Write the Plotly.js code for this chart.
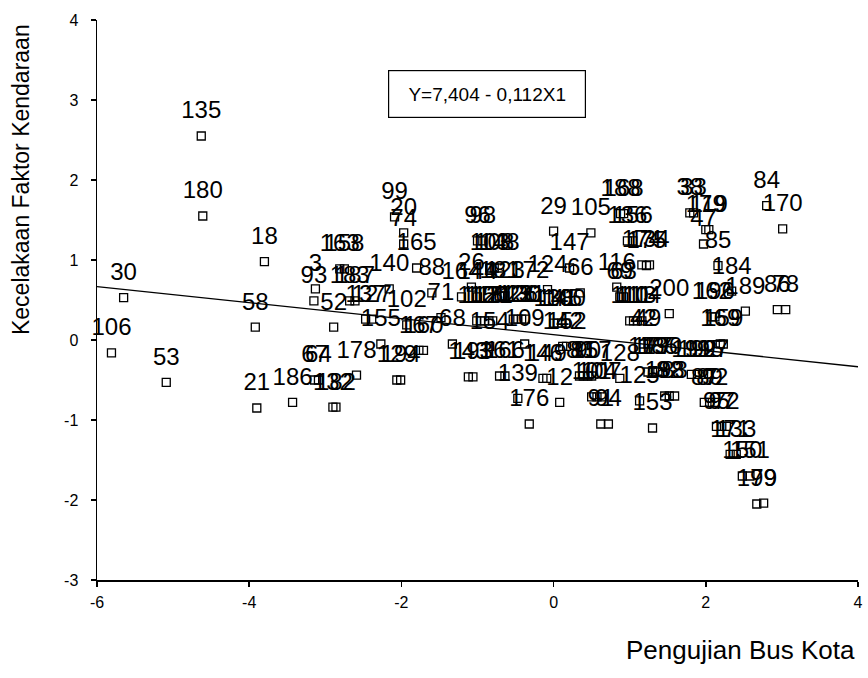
<!DOCTYPE html>
<html><head><meta charset="utf-8">
<script src="https://cdn.plot.ly/plotly-3.0.1.min.js"></script>
<style>html,body{margin:0;padding:0;background:#fff}</style>
</head><body>
<div id="chart" style="width:868px;height:678px"></div>
<script>
// Case labels and coordinates
const caseLabels = [
 "135","180","30","106","53","58","18","21","186","132","182","178","67","64","3","93","52","183","187","163",
 "158","140","137","127","102","71","88","68","165","99","20","74","155","167","160","129","194","143","193","154",
 "109","142","152","26","164","144","181","123","172","124","66","116","69","63","29","105","147","188","168","136",
 "156","174","175","134","96","98","103","108","148","38","33","179","119","47","85","84","170","184","162","196",
 "200","189","86","78","169","159","42","49",
 "110","111","113","114",
 "115","117","118","120","121",
 "122","126","130","131",
 "138","141","145","100",
 "161","166","146","149",
 "80","81","90","157",
 "128",
 "173","177","185","190",
 "191","192","195","197",
 "139","12",
 "101","104","107",
 "125",
 "198","82","83",
 "87","89","92",
 "176",
 "91","94",
 "153",
 "95","97","72",
 "171","133",
 "150","151",
 "199","79"
];
const xValues = [
 -4.63,-4.61,-5.65,-5.81,-5.09,-3.92,-3.80,-3.90,-3.43,-2.90,-2.86,-2.59,-3.14,-3.09,-3.13,-3.15,-2.89,-2.68,-2.61,-2.81,
 -2.75,-2.16,-2.47,-2.39,-1.93,-1.48,-1.60,-1.33,-1.80,-2.09,-1.97,-1.97,-2.27,-1.77,-1.71,-2.06,-2.01,-1.12,-1.06,-0.84,
 -0.38,0.12,0.17,-1.08,-1.21,-1.00,-0.71,-0.64,-0.32,-0.08,0.35,0.83,0.87,0.92,0.00,0.49,0.21,0.88,0.92,0.97,
 1.04,1.16,1.22,1.26,-1.00,-0.93,-0.84,-0.78,-0.71,1.79,1.84,2.00,2.04,1.97,2.16,2.80,3.01,2.34,2.08,2.12,
 1.52,2.52,2.94,3.05,2.19,2.23,1.18,1.24,
 1.00,1.05,1.10,1.16,
 -1.01,-0.96,-0.91,-0.85,-0.80,
 -0.53,-0.47,-0.42,-0.37,
 0.00,0.05,0.11,0.16,
 -0.71,-0.64,-0.14,-0.09,
 0.34,0.39,0.45,0.50,
 0.87,
 1.24,1.30,1.37,1.43,
 1.81,1.89,1.97,2.04,
 -0.47,0.08,
 0.50,0.57,0.63,
 1.13,
 1.46,1.52,1.59,
 1.98,2.05,2.12,
 -0.32,
 0.62,0.72,
 1.30,
 2.14,2.21,2.27,
 2.32,2.40,
 2.48,2.58,
 2.67,2.76
];
const yValues = [
 2.55,1.55,0.53,-0.16,-0.53,0.16,0.98,-0.85,-0.78,-0.84,-0.84,-0.44,-0.50,-0.50,0.64,0.49,0.16,0.49,0.49,0.89,
 0.89,0.64,0.26,0.26,0.19,0.28,0.59,-0.05,0.90,1.54,1.34,1.20,-0.05,-0.13,-0.13,-0.50,-0.50,-0.46,-0.46,-0.08,
 -0.05,-0.08,-0.08,0.66,0.54,0.54,0.55,0.55,0.55,0.63,0.59,0.66,0.54,0.54,1.36,1.34,0.90,1.58,1.58,1.24,
 1.24,0.94,0.93,0.94,1.24,1.24,0.90,0.90,0.90,1.59,1.59,1.38,1.38,1.20,0.93,1.68,1.39,0.61,0.29,0.29,
 0.33,0.36,0.38,0.38,-0.05,-0.05,-0.05,-0.05,
 0.24,0.24,0.24,0.24,
 0.24,0.24,0.24,0.24,0.24,
 0.26,0.26,0.26,0.26,
 0.21,0.21,0.21,0.21,
 -0.45,-0.45,-0.48,-0.48,
 -0.45,-0.45,-0.45,-0.45,
 -0.48,
 -0.40,-0.40,-0.40,-0.40,
 -0.43,-0.43,-0.43,-0.43,
 -0.73,-0.78,
 -0.71,-0.71,-0.71,
 -0.76,
 -0.70,-0.70,-0.70,
 -0.78,-0.78,-0.78,
 -1.05,
 -1.05,-1.05,
 -1.10,
 -1.08,-1.08,-1.08,
 -1.43,-1.43,
 -1.70,-1.70,
 -2.05,-2.04
];
// Fitted regression line end points
const lineX = [-6, 4];
const lineY = [0.667, -0.334];
const equationText = "Y=7,404 - 0,112X1";
const xTicks = [-6, -4, -2, 0, 2, 4];
const xTickText = ["-6", "-4", "-2", "0", "2", "4"];
const yTicks = [-3, -2, -1, 0, 1, 2, 3, 4];
const yTickText = ["-3", "-2", "-1", "0", "1", "2", "3", "4"];
const xTitle = "Pengujian Bus Kota";
const yTitle = "Kecelakaan Faktor Kendaraan";

const FONT = "Liberation Sans, Arial, Helvetica, sans-serif";

const traces = [
  {
    x: lineX, y: lineY, type: "scatter", mode: "lines",
    line: {color: "#000", width: 1.4}, hoverinfo: "skip", showlegend: false
  },
  {
    x: xValues, y: yValues, text: caseLabels, type: "scatter", mode: "markers+text",
    textposition: "top center",
    textfont: {family: FONT, size: 24, color: "#000"},
    marker: {size: 17, color: "rgba(0,0,0,0)", line: {width: 0}},
    hoverinfo: "skip", showlegend: false, cliponaxis: false
  },
  {
    x: xValues, y: yValues, type: "scatter", mode: "markers",
    marker: {symbol: "square-open", size: 8, color: "#000", line: {width: 1.3, color: "#000"}},
    showlegend: false
  }
];

const layout = {
  width: 868, height: 678,
  margin: {l: 97, r: 10, t: 20, b: 98},
  paper_bgcolor: "#fff", plot_bgcolor: "#fff",
  font: {family: FONT, color: "#000"},
  xaxis: {
    range: [-6, 4], tickmode: "array", tickvals: xTicks, ticktext: xTickText,
    ticks: "outside", ticklen: 5, tickwidth: 1.5, tickcolor: "#000",
    showline: true, linecolor: "#000", linewidth: 1.5,
    showgrid: false, zeroline: false,
    tickfont: {family: FONT, size: 16, color: "#000"},
    ticklabelstandoff: 2,
    title: {text: ""}
  },
  yaxis: {
    range: [-3, 4], tickmode: "array", tickvals: yTicks, ticktext: yTickText,
    ticks: "outside", ticklen: 5, tickwidth: 1.5, tickcolor: "#000",
    showline: true, linecolor: "#000", linewidth: 1.5,
    showgrid: false, zeroline: false,
    tickfont: {family: FONT, size: 16, color: "#000"},
    ticklabelstandoff: 9,
    title: {text: ""}
  },
  annotations: [
    {
      x: -0.87, y: 3.08, xref: "x", yref: "y", text: equationText, showarrow: false,
      font: {family: FONT, size: 19, color: "#000"},
      bordercolor: "#000", borderwidth: 1.2, borderpad: 2,
      width: 192, height: 42, bgcolor: "#fff", align: "center"
    },
    {
      x: 0.9987, y: -0.125, xref: "paper", yref: "paper", text: xTitle, showarrow: false,
      xanchor: "right", yanchor: "middle",
      font: {family: FONT, size: 26, color: "#000"}
    },
    {
      x: -0.0999, y: 0.716, xref: "paper", yref: "paper", text: yTitle, showarrow: false,
      textangle: -90, xanchor: "center", yanchor: "middle",
      font: {family: FONT, size: 23, color: "#000"}
    }
  ]
};

Plotly.newPlot("chart", traces, layout, {displayModeBar: false, staticPlot: true});
</script>
</body></html>
